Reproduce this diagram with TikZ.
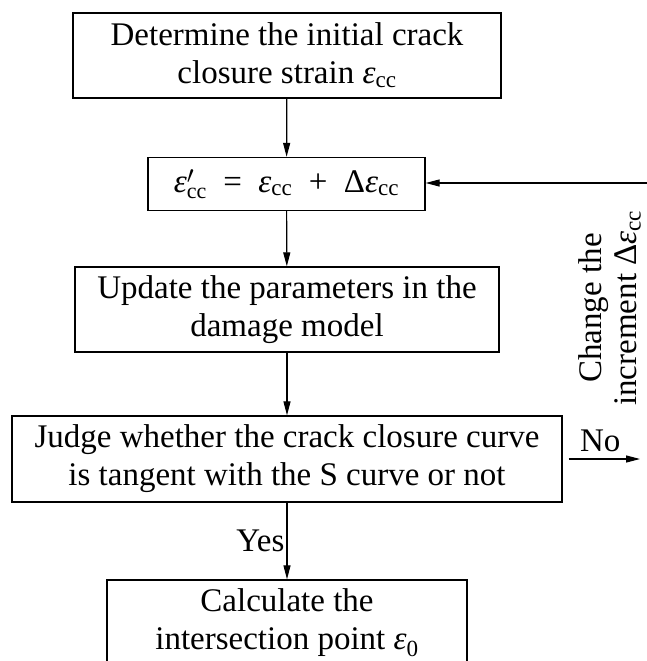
\documentclass[tikz,border=0pt]{standalone}
\usepackage{fontspec}
\setmainfont{Liberation Serif}
\usetikzlibrary{arrows.meta}
\newcommand{\ecc}{\textit{ε}\textsubscript{cc}}
\newcommand{\eccp}{$\mbox{\textit{ε}}'_{\mbox{\fontsize{22}{22}\selectfont cc}}$}
\begin{document}
\begin{tikzpicture}[x=1pt,y=-1pt,
  box/.style={draw,line width=1.3pt,align=center,inner sep=0pt,
    font=\fontsize{33}{38}\selectfont},
  lbl/.style={font=\fontsize{33}{38}\selectfont,inner sep=2pt},
  arr/.style={line width=1.2pt,-{Triangle[length=14pt,width=7pt]}}]
\useasboundingbox (0,0) rectangle (647,661);
\node[box,minimum width=428,minimum height=85] (b1) at (287,55.5)
  {Determine the initial crack\\closure strain \ecc};
\node[box,minimum width=277,minimum height=53] (b2) at (286.5,184)
  {\eccp\enspace=\enspace\ecc\enspace+\enspace Δ\ecc};
\node[box,minimum width=424,minimum height=85] (b3) at (287,309.5)
  {Update the parameters in the\\damage model};
\node[box,minimum width=550,minimum height=86] (b4) at (287,459)
  {Judge whether the crack closure curve\\is tangent with the S curve or not};
\node[box,minimum width=360,minimum height=85] (b5) at (287,622.5)
  {Calculate the\\intersection point \textit{ε}\textsubscript{0}};
\draw[arr] (b1) -- (b2);
\draw[arr] (b2) -- (b3);
\draw[arr] (b3) -- (b4);
\draw[arr] (b4) -- node[lbl,left] (yes) {Yes} (b5);
\coordinate (noend) at (640,459);
\draw[arr] ([xshift=6pt]b4.east) -- node[lbl,above=5pt,xshift=-4pt] (no) {No} (noend);
\coordinate (fb) at (647,183);
\draw[arr] (fb) -- (fb -| b2.east);
\node[font=\fontsize{33}{35}\selectfont,inner sep=0pt,rotate=90,align=center] (chg) at (610,308)
  {Change the\\increment Δ\ecc};
\end{tikzpicture}
\end{document}
